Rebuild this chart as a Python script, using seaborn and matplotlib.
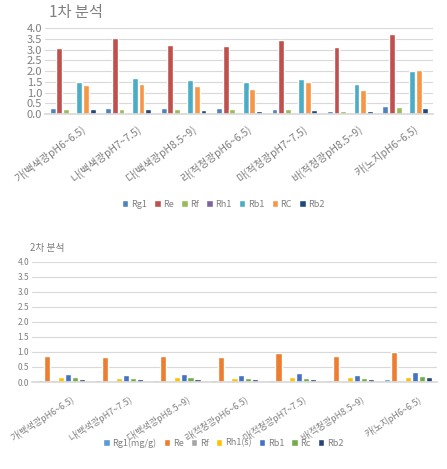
import numpy as np
import pandas as pd
import matplotlib.pyplot as plt
import matplotlib.transforms as mtrans
import seaborn as sns

sns.set_theme(style="white")
plt.rcParams["font.family"] = ["Noto Sans CJK KR", "DejaVu Sans"]

samples = ["가(백색광pH6~6.5)", "나(백색광pH7~7.5)", "다(백색광pH8.5~9)",
           "라(적청광pH6~6.5)", "마(적청광pH7~7.5)", "바(적청광pH8.5~9)",
           "카(노지pH6~6.5)"]

# 1차 분석
series1 = ["Rg1", "Re", "Rf", "Rh1", "Rb1", "RC", "Rb2"]
rg1_1 = [0.30, 0.30, 0.30, 0.30, 0.25, 0.15, 0.38]
re_1 = [3.07, 3.53, 3.22, 3.15, 3.45, 3.10, 3.75]
rf_1 = [0.22, 0.22, 0.22, 0.22, 0.22, 0.15, 0.33]
rh1_1 = [0, 0, 0, 0, 0, 0, 0]
rb1_1 = [1.50, 1.68, 1.57, 1.50, 1.65, 1.38, 2.00]
rc_1 = [1.35, 1.38, 1.30, 1.15, 1.50, 1.10, 2.07]
rb2_1 = [0.22, 0.22, 0.18, 0.15, 0.18, 0.15, 0.26]
colors1 = ["#4F81BD", "#C0504D", "#9BBB59", "#8064A2", "#4BACC6", "#F79646", "#1F497D"]

# 2차 분석
series2 = ["Rg1(mg/g)", "Re", "Rf", "Rh1(s)", "Rb1", "Rc", "Rb2"]
rg1_2 = [0.07, 0.05, 0.08, 0.05, 0.07, 0.05, 0.09]
re_2 = [0.88, 0.84, 0.86, 0.84, 0.97, 0.86, 1.00]
rf_2 = [0.05, 0.03, 0.04, 0.03, 0.04, 0.04, 0.04]
rh1_2 = [0.15, 0.14, 0.17, 0.14, 0.17, 0.15, 0.15]
rb1_2 = [0.28, 0.22, 0.27, 0.23, 0.29, 0.24, 0.33]
rc_2 = [0.16, 0.12, 0.16, 0.12, 0.14, 0.14, 0.21]
rb2_2 = [0.11, 0.09, 0.11, 0.09, 0.09, 0.09, 0.16]
colors2 = ["#5B9BD5", "#ED7D31", "#A5A5A5", "#FFC000", "#4472C4", "#70AD47", "#264478"]

TXT = "#7f7f7f"


def to_long(names, cols):
    rows = []
    for name, vals in zip(names, cols):
        for s, v in zip(samples, vals):
            rows.append({"sample": s, "series": name, "value": v})
    return pd.DataFrame(rows)


def draw(ax, df, names, colors, ysize, xsize, xrot, xpad, xshift, title, title_size,
         title_xy, legend_y, fig):
    sns.barplot(data=df, x="sample", y="value", hue="series", hue_order=names,
                palette=colors, width=0.84, gap=0.12, ax=ax, saturation=1)
    ax.set_ylim(0, 4.0)
    ax.set_yticks(np.arange(0, 4.01, 0.5))
    ax.set_yticklabels([f"{v:.1f}" for v in np.arange(0, 4.01, 0.5)])
    ax.yaxis.grid(True, color="#d9d9d9", linewidth=0.8)
    ax.set_axisbelow(True)
    for side in ["top", "right", "left"]:
        ax.spines[side].set_visible(False)
    ax.spines["bottom"].set_color("#d9d9d9")
    ax.set_xlabel("")
    ax.set_ylabel("")
    ax.tick_params(axis="y", labelsize=ysize, colors=TXT, length=0, pad=2)
    ax.tick_params(axis="x", labelsize=xsize, colors=TXT, length=0, pad=xpad)
    offset = mtrans.ScaledTranslation(xshift / 100, 0, fig.dpi_scale_trans)
    for lbl in ax.get_xticklabels():
        lbl.set_rotation(xrot)
        lbl.set_ha("right")
        lbl.set_rotation_mode("anchor")
        lbl.set_transform(lbl.get_transform() + offset)
    handles, labels = ax.get_legend_handles_labels()
    ax.legend_.remove()
    fig.legend(handles, labels, loc="center", bbox_to_anchor=(0.5, legend_y),
               ncol=7, frameon=False, fontsize=6.5, labelcolor=TXT,
               handlelength=0.7, handleheight=0.7, handletextpad=0.3,
               columnspacing=0.8)
    fig.text(title_xy[0], title_xy[1], title, fontsize=title_size, color=TXT,
             ha="left", va="center")


fig = plt.figure(figsize=(4.47, 4.69), dpi=100)
ax1 = fig.add_axes([0.1007, 0.757, 0.868, 0.183])
ax2 = fig.add_axes([0.0716, 0.1855, 0.906, 0.256])

df1 = to_long(series1, [rg1_1, re_1, rf_1, rh1_1, rb1_1, rc_1, rb2_1])
df2 = to_long(series2, [rg1_2, re_2, rf_2, rh1_2, rb1_2, rc_2, rb2_2])

draw(ax1, df1, series1, colors1, 8, 7.5, 37, 7, 8, "1차 분석", 11,
     (0.110, 1 - 12 / 469), 1 - 204 / 469, fig)
draw(ax2, df2, series2, colors2, 6, 6.5, 33, 9, 10, "2차 분석", 7,
     (0.067, 1 - 248 / 469), 1 - 443 / 469, fig)

fig.savefig("out.png", dpi=100)
